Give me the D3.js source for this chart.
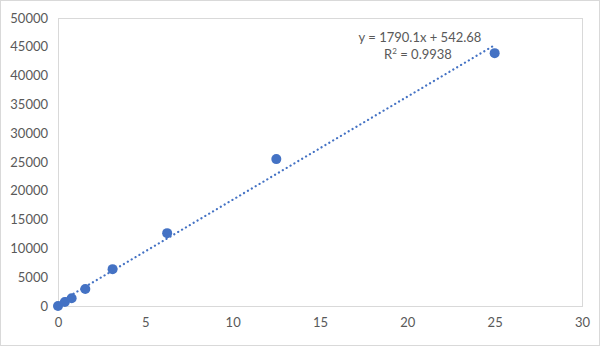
<!DOCTYPE html>
<html lang="en">
<head>
    <meta charset="UTF-8" />
    <title>Standard curve</title>
    <script src="https://d3js.org/d3.v7.min.js"></script>
    <style>
        html, body { margin: 0; padding: 0; background: #fff; }
        svg { display: block; font-family: Lato, "Open Sans", sans-serif; }
    </style>
</head>
<body>
    <svg width="600" height="346"></svg>
    <script>
        // data
        const concentrations = [0, 0.390625, 0.78125, 1.5625, 3.125, 6.25, 12.5, 25];
        const signals = [0, 690, 1330, 2950, 6400, 12650, 25500, 43900];
        const xTicks = [0, 5, 10, 15, 20, 25, 30];
        const yTicks = [0, 5000, 10000, 15000, 20000, 25000, 30000, 35000, 40000, 45000, 50000];
        const slope = 1790.1, intercept = 542.68;
        const eqLabel = "y = 1790.1x + 542.68";
        const r2Value = "0.9938";

        const svg = d3.select("svg");
        const blue = "#4472C4";
        const grey = "#d9d9d9";
        const textCol = "#595959";

        const margin = { left: 58, top: 18, right: 18, bottom: 40 };
        const W = 600, H = 346;

        const x = d3.scaleLinear().domain([0, 30]).range([margin.left, W - margin.right]);
        const y = d3.scaleLinear().domain([0, 50000]).range([H - margin.bottom, margin.top]);

        // outer chart border
        svg.append("rect")
            .attr("x", 0.5).attr("y", 0.5)
            .attr("width", W - 1).attr("height", H - 1)
            .attr("fill", "#fff").attr("stroke", grey);

        // plot area frame
        svg.append("rect")
            .attr("x", x(0) + 0.5).attr("y", y(50000) + 0.5)
            .attr("width", x(30) - x(0)).attr("height", y(0) - y(50000))
            .attr("fill", "none").attr("stroke", grey);

        // axes (labels only, lines are the frame)
        const xAxis = svg.append("g")
            .attr("transform", `translate(0,${y(0)})`)
            .call(d3.axisBottom(x).tickValues(xTicks).tickSize(0).tickPadding(12).tickFormat(d3.format("d")));
        const yAxis = svg.append("g")
            .attr("transform", `translate(${x(0)},0)`)
            .call(d3.axisLeft(y).tickValues(yTicks).tickSize(0).tickPadding(10).tickFormat(d3.format("d")));
        [xAxis, yAxis].forEach(g => {
            g.select(".domain").attr("stroke", grey);
            g.selectAll("text").attr("fill", textCol).style("font-size", "13px")
                .style("font-family", "Lato, 'Open Sans', sans-serif");
        });

        // linear trendline (dotted)
        const trendX = [0, d3.max(concentrations)];
        svg.append("line")
            .attr("x1", x(trendX[0])).attr("y1", y(slope * trendX[0] + intercept))
            .attr("x2", x(trendX[1])).attr("y2", y(slope * trendX[1] + intercept))
            .attr("stroke", blue).attr("stroke-width", 2.2)
            .attr("stroke-linecap", "round")
            .attr("stroke-dasharray", "0.1 4.4");

        // points
        svg.append("g").selectAll("circle")
            .data(concentrations.map((c, i) => [c, signals[i]]))
            .join("circle")
            .attr("cx", d => x(d[0]))
            .attr("cy", d => y(d[1]))
            .attr("r", 5)
            .attr("fill", blue);

        // equation label
        const lbl = svg.append("text")
            .attr("text-anchor", "middle")
            .attr("fill", textCol)
            .style("font-size", "13px");
        lbl.append("tspan").attr("x", 420).attr("y", 42).text(eqLabel);
        const r2 = svg.append("text")
            .attr("x", 418).attr("y", 59)
            .attr("text-anchor", "middle")
            .attr("fill", textCol)
            .style("font-size", "13px");
        r2.append("tspan").text("R");
        r2.append("tspan").attr("dy", -5).style("font-size", "8px").text("2");
        r2.append("tspan").attr("dy", 5).text(" = " + r2Value);
    </script>
</body>
</html>
